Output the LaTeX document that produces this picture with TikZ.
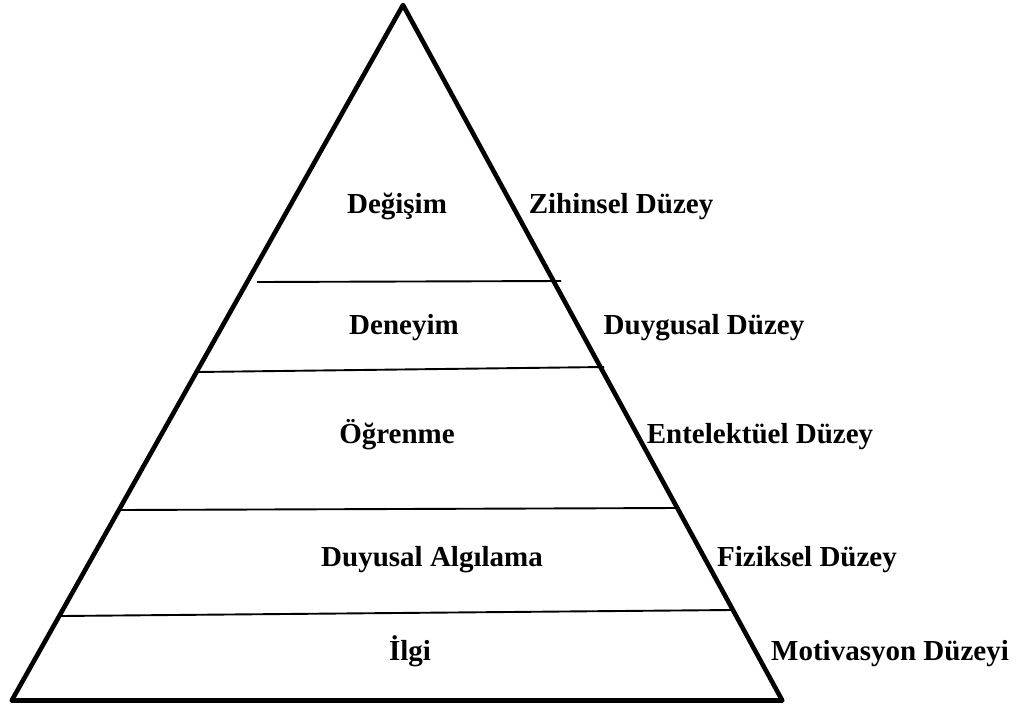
\documentclass[tikz,border=0pt]{standalone}
\usepackage{fontspec}
\setmainfont{Liberation Serif}
\begin{document}
\begin{tikzpicture}[x=1pt,y=-1pt,
  lbl/.style={anchor=base,inner sep=0pt,font=\fontsize{29}{34}\selectfont\bfseries},
  side/.style={line width=4.6pt,line join=round},
  divider/.style={line width=1.9pt}]
\useasboundingbox (0,0) rectangle (1022,707);
% pyramid outline
\coordinate (apex) at (403,5);
\coordinate (bl) at (12,700);
\coordinate (br) at (782,700);
\draw[side] (bl) -- (apex) -- (br);
\draw[line width=5pt,line cap=round] (bl) -- (br);
% layer dividers
\coordinate (d1a) at (257,282); \coordinate (d1b) at (561,281);
\coordinate (d2a) at (197,372); \coordinate (d2b) at (604,367);
\coordinate (d3a) at (119,510); \coordinate (d3b) at (677,508);
\coordinate (d4a) at (61,616);  \coordinate (d4b) at (731,610);
\draw[divider] (d1a) -- (d1b);
\draw[divider] (d2a) -- (d2b);
\draw[divider] (d3a) -- (d3b);
\draw[divider] (d4a) -- (d4b);
% layer names
\node[lbl] (l1) at (397,213) {Değişim};
\node[lbl] (l2) at (404,334) {Deneyim};
\node[lbl] (l3) at (397,443) {Öğrenme};
\node[lbl] (l4) at (432,566) {Duyusal Algılama};
\node[lbl] (l5) at (410,660) {İlgi};
% level names
\node[lbl] (r1) at (621,213) {Zihinsel Düzey};
\node[lbl] (r2) at (704,334) {Duygusal Düzey};
\node[lbl] (r3) at (760,443) {Entelektüel Düzey};
\node[lbl] (r4) at (807,566) {Fiziksel Düzey};
\node[lbl] (r5) at (890,660) {Motivasyon Düzeyi};
\end{tikzpicture}
\end{document}
